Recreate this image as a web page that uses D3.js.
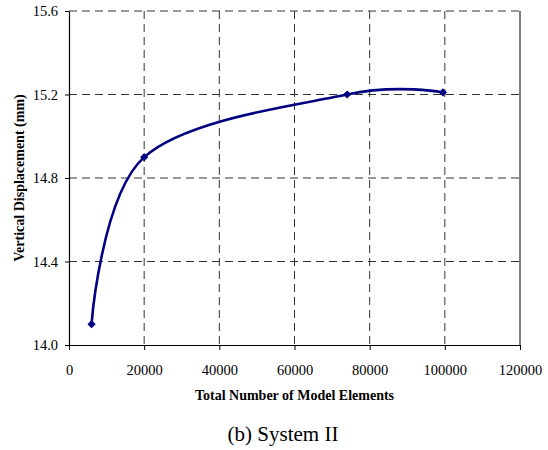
<!DOCTYPE html>
<html>
<head>
<meta charset="utf-8">
<script src="https://cdn.jsdelivr.net/npm/d3@7"></script>
<style>
  body { margin: 0; background: #fff; }
  svg { font-family: "Liberation Serif", "Times New Roman", serif; }
</style>
</head>
<body>
<svg id="chart"></svg>
<script>
var elements = [6000, 20000, 74000, 99500];
var displacement = [14.1, 14.9, 15.2, 15.21];
var xTicks = [0, 20000, 40000, 60000, 80000, 100000, 120000];
var yTicks = [14.0, 14.4, 14.8, 15.2, 15.6];

var width = 548;
var height = 450;
var plotLeft = 69, plotTop = 11, plotRight = 520, plotBottom = 345;

var xs = d3.scaleLinear().domain([0, 120000]).range([plotLeft, plotRight]);
var ys = d3.scaleLinear().domain([14.0, 15.6]).range([plotBottom, plotTop]);

var svg = d3.select('#chart')
    .attr('width', width)
    .attr('height', height);

// dashed grid
svg.append('g').selectAll('line').data(xTicks.slice(1, -1))
    .enter().append('line')
    .attr('x1', function (d) { return xs(d); })
    .attr('x2', function (d) { return xs(d); })
    .attr('y1', plotTop).attr('y2', plotBottom)
    .attr('stroke', '#333').attr('stroke-width', 1)
    .attr('stroke-dasharray', '8,5');

svg.append('g').selectAll('line').data(yTicks.slice(1))
    .enter().append('line')
    .attr('y1', function (d) { return ys(d); })
    .attr('y2', function (d) { return ys(d); })
    .attr('x1', plotLeft).attr('x2', plotRight)
    .attr('stroke', '#333').attr('stroke-width', 1)
    .attr('stroke-dasharray', '8,5');

// right border
svg.append('line')
    .attr('x1', plotRight).attr('x2', plotRight)
    .attr('y1', plotTop).attr('y2', plotBottom)
    .attr('stroke', '#000').attr('stroke-width', 1);

// axes
var xAxis = svg.append('g')
    .attr('transform', 'translate(0,' + plotBottom + ')')
    .call(d3.axisBottom(xs).tickValues(xTicks).tickSize(5).tickSizeOuter(0).tickFormat(d3.format('d')));
var yAxis = svg.append('g')
    .attr('transform', 'translate(' + plotLeft + ',0)')
    .call(d3.axisLeft(ys).tickValues(yTicks).tickSize(4).tickSizeOuter(0).tickFormat(d3.format('.1f')));

[xAxis, yAxis].forEach(function (a) {
    a.select('.domain').attr('stroke', '#000').attr('stroke-width', 1.2);
    a.selectAll('.tick line').attr('stroke', '#000');
    a.selectAll('text').attr('font-family', '"Liberation Serif", serif').attr('font-size', 14.5).attr('fill', '#000');
});
xAxis.selectAll('text').attr('y', 20).attr('dy', '0.71em');
yAxis.selectAll('text').attr('x', -11);

// smoothed line
var pts = elements.map(function (e, i) { return [e, displacement[i]]; });

svg.append('path')
    .datum(pts)
    .attr('fill', 'none')
    .attr('stroke', '#000080')
    .attr('stroke-width', 2.6)
    .attr('d', d3.line()
        .x(function (d) { return xs(d[0]); })
        .y(function (d) { return ys(d[1]); })
        .curve(d3.curveCardinal.tension(0)));

svg.append('g').selectAll('path').data(pts)
    .enter().append('path')
    .attr('d', d3.symbol().type(d3.symbolSquare).size(34))
    .attr('transform', function (d) { return 'translate(' + xs(d[0]) + ',' + ys(d[1]) + ') rotate(45)'; })
    .attr('fill', '#000080');

// titles
svg.append('text')
    .attr('x', (plotLeft + plotRight) / 2).attr('y', 400)
    .attr('text-anchor', 'middle')
    .attr('font-weight', 'bold').attr('font-size', 14)
    .text('Total Number of Model Elements');

svg.append('text')
    .attr('transform', 'translate(24,' + (plotTop + plotBottom) / 2 + ') rotate(-90)')
    .attr('text-anchor', 'middle')
    .attr('font-weight', 'bold').attr('font-size', 14)
    .text('Vertical Displacement (mm)');

svg.append('text')
    .attr('x', 283).attr('y', 441)
    .attr('text-anchor', 'middle')
    .attr('font-size', 21)
    .text('(b) System II');
</script>
</body>
</html>
